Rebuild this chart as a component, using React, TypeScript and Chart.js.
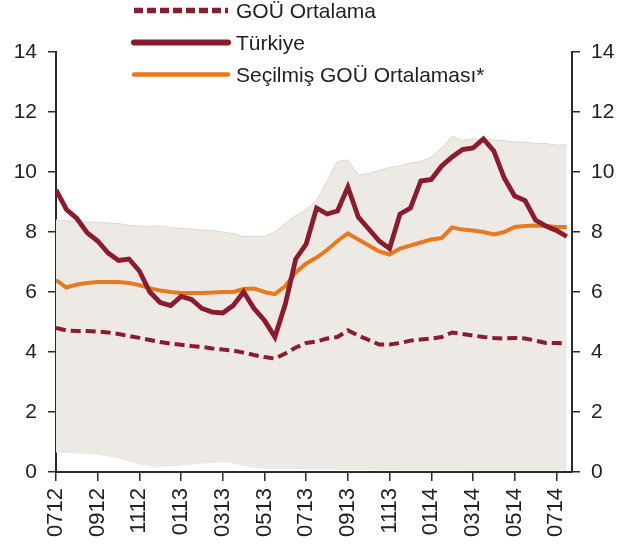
import React, { useEffect, useRef } from 'react';
import { Chart, registerables } from 'chart.js';

Chart.register(...registerables);

// Half-monthly observations, July 2012 - August 2014
const periods = [
  '2012-07-01', '2012-07-16', '2012-08-01', '2012-08-16', '2012-09-01', '2012-09-16',
  '2012-10-01', '2012-10-16', '2012-11-01', '2012-11-16', '2012-12-01', '2012-12-16',
  '2013-01-01', '2013-01-16', '2013-02-01', '2013-02-16', '2013-03-01', '2013-03-16',
  '2013-04-01', '2013-04-16', '2013-05-01', '2013-05-16', '2013-06-01', '2013-06-16',
  '2013-07-01', '2013-07-16', '2013-08-01', '2013-08-16', '2013-09-01', '2013-09-16',
  '2013-10-01', '2013-10-16', '2013-11-01', '2013-11-16', '2013-12-01', '2013-12-16',
  '2014-01-01', '2014-01-16', '2014-02-01', '2014-02-16', '2014-03-01', '2014-03-16',
  '2014-04-01', '2014-04-16', '2014-05-01', '2014-05-16', '2014-06-01', '2014-06-16',
  '2014-07-01', '2014-07-16',
];

const tickLabels = ['0712', '0912', '1112', '0113', '0313', '0513', '0713', '0913', '1113', '0114', '0314', '0514', '0714'];

const turkiye = [
  9.4, 8.75, 8.45, 7.97, 7.7, 7.3, 7.05, 7.1, 6.7, 6.0,
  5.65, 5.55, 5.85, 5.75, 5.45, 5.33, 5.3, 5.55, 6.0, 5.45,
  5.05, 4.5, 5.6, 7.1, 7.6, 8.8, 8.6, 8.7, 9.5, 8.5,
  8.1, 7.7, 7.45, 8.6, 8.8, 9.7, 9.75, 10.2, 10.5, 10.75,
  10.8, 11.1, 10.7, 9.8, 9.2, 9.05, 8.4, 8.2, 8.05, 7.85,
];

const secilmis = [
  6.4, 6.15, 6.25, 6.3, 6.33, 6.33, 6.33, 6.3, 6.23, 6.12,
  6.05, 6.0, 5.97, 5.97, 5.97, 5.98, 6.0, 6.0, 6.1, 6.12,
  6.0, 5.93, 6.2, 6.65, 6.95, 7.15, 7.4, 7.7, 7.95, 7.75,
  7.55, 7.35, 7.25, 7.45, 7.55, 7.65, 7.75, 7.8, 8.15, 8.08,
  8.05, 8.0, 7.92, 8.0, 8.17, 8.2, 8.22, 8.2, 8.17, 8.17,
];

const gouOrtalama = [
  4.8, 4.72, 4.7, 4.7, 4.68, 4.65, 4.6, 4.53, 4.47, 4.4,
  4.33, 4.28, 4.24, 4.2, 4.17, 4.12, 4.08, 4.05, 3.98, 3.9,
  3.83, 3.78, 3.95, 4.15, 4.3, 4.35, 4.45, 4.5, 4.72, 4.55,
  4.4, 4.25, 4.25, 4.3, 4.38, 4.42, 4.45, 4.5, 4.65, 4.6,
  4.55, 4.5, 4.47, 4.45, 4.47, 4.45, 4.38, 4.3, 4.3, 4.28,
];

const bandUpper = [
  8.4, 8.38, 8.35, 8.33, 8.32, 8.3, 8.28, 8.22, 8.2, 8.18,
  8.2, 8.15, 8.12, 8.1, 8.07, 8.05, 8.0, 7.95, 7.85, 7.85,
  7.85, 8.0, 8.3, 8.55, 8.75, 9.05, 9.7, 10.35, 10.4, 9.9,
  9.95, 10.05, 10.15, 10.2, 10.3, 10.35, 10.5, 10.8, 11.2, 11.05,
  11.1, 11.1, 11.07, 11.05, 11.0, 11.0, 10.95, 10.95, 10.9, 10.9,
];

const bandLower = [
  0.65, 0.64, 0.62, 0.6, 0.57, 0.52, 0.45, 0.33, 0.25, 0.18,
  0.16, 0.18, 0.22, 0.25, 0.28, 0.3, 0.33, 0.28, 0.2, 0.15,
  0.1, 0.1, 0.1, 0.1, 0.08, 0.08, 0.08, 0.07, 0.07, 0.07,
  0.07, 0.06, 0.06, 0.06, 0.05, 0.05, 0.05, 0.05, 0.05, 0.05,
  0.04, 0.04, 0.04, 0.04, 0.04, 0.04, 0.04, 0.04, 0.04, 0.04,
];

const legendLabels = ['GOÜ Ortalama', 'Türkiye', 'Seçilmiş GOÜ Ortalaması*'];

const MAROON = '#8B1B2F';
const ORANGE = '#E8791F';
const BAND = '#EDEAE5';
const AXIS = '#2b2b2b';
const TEXT = '#222222';
const TICK_FONT = '"Liberation Sans Narrow", "Arial Narrow", "Liberation Sans", Arial, sans-serif';
const LEGEND_FONT = '"Liberation Sans", Arial, sans-serif';

const toPoints = (arr: number[]) => periods.map((_, i) => ({ x: i / 2, y: arr[i] }));

const stackedLegend = {
  id: 'stackedLegend',
  afterDraw(chart: any) {
    const ctx = chart.ctx as CanvasRenderingContext2D;
    const entries = chart.data.datasets.filter((d: any) => d.legendRow !== undefined);
    entries.sort((a: any, b: any) => a.legendRow - b.legendRow);
    ctx.save();
    entries.forEach((d: any, i: number) => {
      const cy = 10.5 + i * 32;
      ctx.beginPath();
      ctx.lineWidth = d.legendWidth;
      ctx.strokeStyle = d.borderColor;
      ctx.lineCap = d.borderDash ? 'butt' : 'round';
      ctx.setLineDash(d.borderDash ? [9, 4] : []);
      ctx.moveTo(134, cy);
      ctx.lineTo(228, cy);
      ctx.stroke();
      ctx.setLineDash([]);
      ctx.fillStyle = TEXT;
      ctx.font = `21px ${LEGEND_FONT}`;
      ctx.textBaseline = 'alphabetic';
      ctx.textAlign = 'left';
      ctx.fillText(d.label, 236, cy + 7.5);
    });
    ctx.restore();
  },
};

const yAxis = (position: 'left' | 'right', width: number) => ({
  type: 'linear' as const,
  position,
  min: 0,
  max: 14,
  ticks: {
    stepSize: 2,
    color: TEXT,
    padding: 11,
    font: { family: TICK_FONT, size: 21 },
  },
  grid: { drawOnChartArea: false, drawTicks: true, tickLength: 8, color: AXIS, lineWidth: 1.5 },
  border: { display: true, color: AXIS, width: 2 },
  afterFit(scale: any) {
    scale.width = width;
  },
});

export default function App() {
  const canvasRef = useRef<HTMLCanvasElement | null>(null);

  useEffect(() => {
    if (!canvasRef.current) return;
    const chart = new Chart(canvasRef.current, {
      type: 'line',
      data: {
        datasets: [
          {
            label: legendLabels[1],
            legendRow: 1,
            legendWidth: 6,
            data: toPoints(turkiye),
            borderColor: MAROON,
            borderWidth: 4.8,
            pointRadius: 0,
            fill: false,
            order: 1,
          } as any,
          {
            label: legendLabels[2],
            legendRow: 2,
            legendWidth: 4.5,
            data: toPoints(secilmis),
            borderColor: ORANGE,
            borderWidth: 4,
            pointRadius: 0,
            fill: false,
            order: 2,
          } as any,
          {
            label: legendLabels[0],
            legendRow: 0,
            legendWidth: 5.5,
            data: toPoints(gouOrtalama),
            borderColor: MAROON,
            borderWidth: 4,
            borderDash: [10, 5],
            pointRadius: 0,
            fill: false,
            order: 3,
          } as any,
          {
            label: 'Alt sınır',
            data: toPoints(bandLower),
            borderWidth: 0,
            borderColor: 'rgba(0,0,0,0)',
            pointRadius: 0,
            fill: false,
            order: 10,
          },
          {
            label: 'Üst sınır',
            data: toPoints(bandUpper),
            borderWidth: 1,
            borderColor: '#DCD8D2',
            backgroundColor: BAND,
            pointRadius: 0,
            fill: '-1',
            order: 9,
          },
        ],
      },
      options: {
        animation: false,
        responsive: true,
        maintainAspectRatio: false,
        layout: { padding: { top: 52, left: 0, right: 0, bottom: 0 } },
        plugins: {
          legend: { display: false },
          tooltip: { enabled: false },
        },
        elements: { line: { tension: 0 } },
        scales: {
          x: {
            type: 'linear',
            position: 'bottom',
            min: 0,
            max: 24.75,
            afterBuildTicks(scale: any) {
              scale.ticks = tickLabels.map((_, i) => ({ value: i * 2 }));
            },
            ticks: {
              autoSkip: false,
              minRotation: 90,
              maxRotation: 90,
              padding: 7,
              color: TEXT,
              font: { family: LEGEND_FONT, size: 22 },
              callback: (v: any) => tickLabels[Math.round(Number(v) / 2)],
            },
            grid: { drawOnChartArea: false, drawTicks: true, tickLength: 9, color: AXIS, lineWidth: 1.5 },
            border: { display: true, color: AXIS, width: 2 },
            afterFit(scale: any) {
              scale.height = 86;
            },
          },
          y: yAxis('left', 56),
          y2: yAxis('right', 57),
        },
      } as any,
      plugins: [stackedLegend],
    });
    return () => chart.destroy();
  }, []);

  return (
    <div style={{ position: 'fixed', left: 0, top: 0, width: 629, height: 558, background: '#ffffff' }}>
      <canvas ref={canvasRef} />
    </div>
  );
}
